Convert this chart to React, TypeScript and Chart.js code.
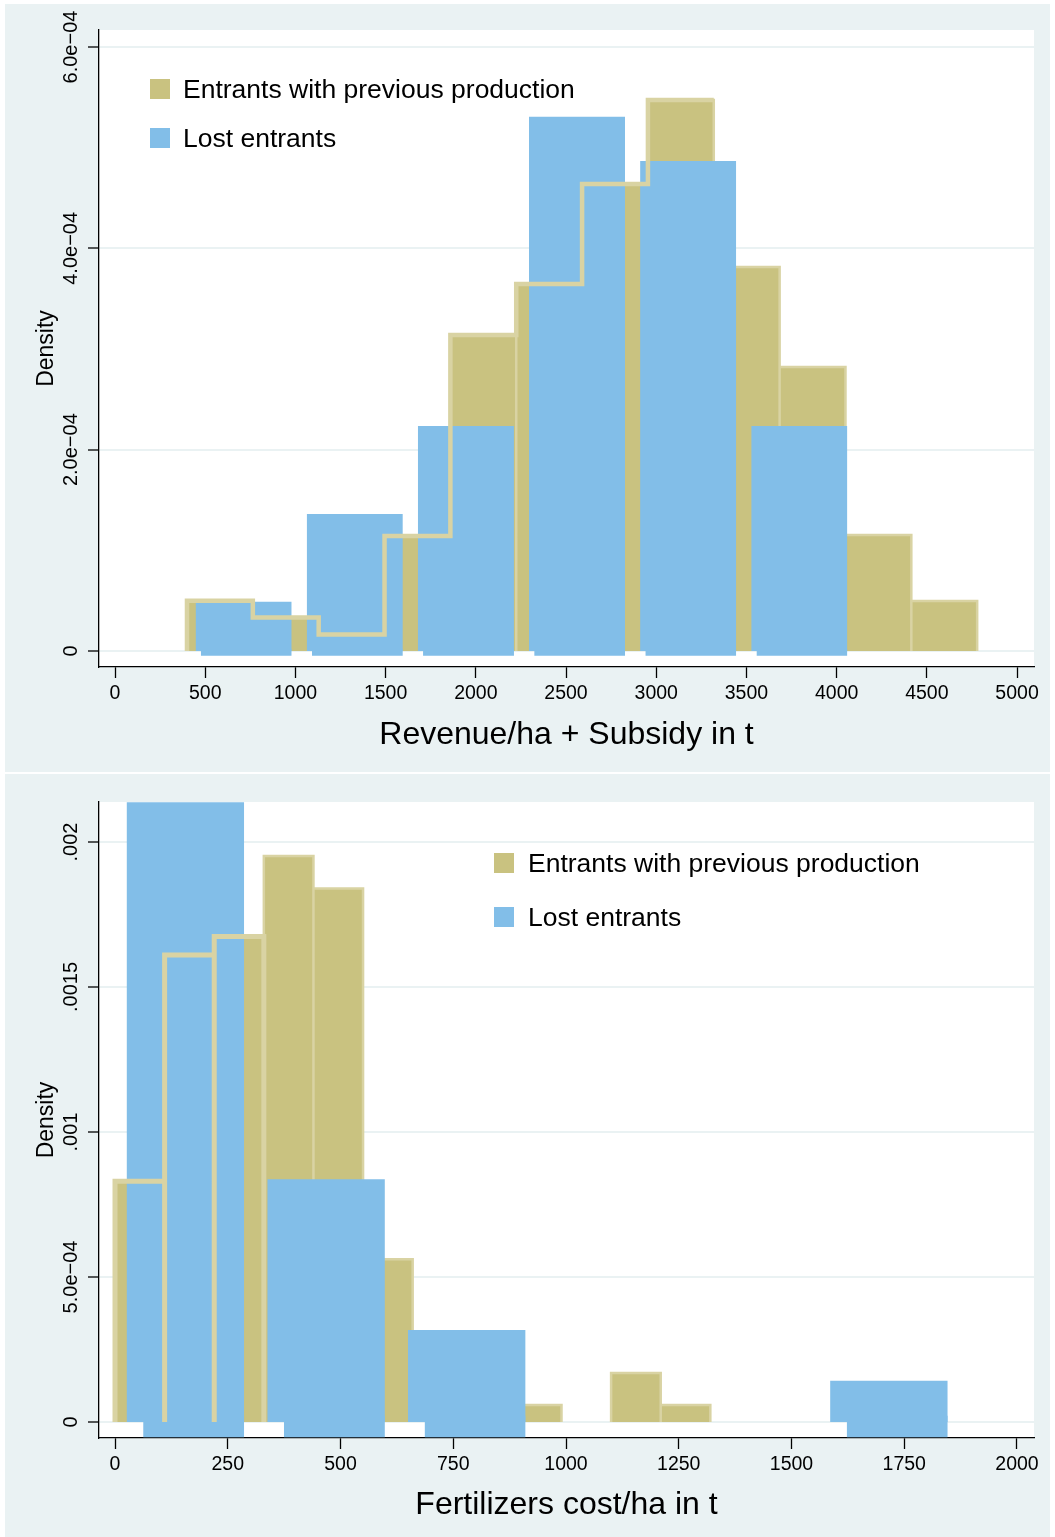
import React, { useEffect, useRef } from "react";
import { Chart, registerables } from "chart.js";

Chart.register(...registerables);

const FONT = "'Liberation Sans', Arial, Helvetica, sans-serif";
const KHAKI = "rgb(201,194,128)";
const KHAKI_EDGE = "rgb(217,211,163)";
const BLUE = "rgb(130,190,232)";
const PANEL_BG = "rgb(234,242,243)";

const legendLabels = ["Entrants with previous production", "Lost entrants"];
const yTitle = "Density";

// ---------- Panel 1: Revenue/ha + Subsidy ----------
const revTitle = "Revenue/ha + Subsidy in t";
const revPrevStart = 399;
const revPrevWidth = 365;
const revPrevDensity = [
  0.5e-4, 0.333e-4, 0.164e-4, 1.142e-4, 3.139e-4, 3.646e-4, 4.639e-4, 5.474e-4,
  3.815e-4, 2.821e-4, 1.152e-4, 0.497e-4,
];
const revLostStart = 405;
const revLostWidth = 616;
const revLostDensity = [0.49e-4, 1.361e-4, 2.235e-4, 5.308e-4, 4.868e-4, 2.235e-4];
const revXTicks = [0, 500, 1000, 1500, 2000, 2500, 3000, 3500, 4000, 4500, 5000];
const revXLabels = ["0", "500", "1000", "1500", "2000", "2500", "3000", "3500", "4000", "4500", "5000"];
const revYTicks = [0, 0.0002, 0.0004, 0.0006];
const revYLabels = ["0", "2.0e\u221204", "4.0e\u221204", "6.0e\u221204"];

// ---------- Panel 2: Fertilizers cost/ha ----------
const fertTitle = "Fertilizers cost/ha in t";
const fertPrevStart = 0;
const fertPrevWidth = 110;
const fertPrevDensity = [
  8.3e-4, 1.61e-3, 1.674e-3, 1.952e-3, 1.84e-3, 5.61e-4, 2.3e-4, 1.2e-4, 5.9e-5, 0,
  1.69e-4, 5.9e-5,
];
const fertLostStart = 0;
const fertLostWidth = 312;
const fertLostDensity = [2.137e-3, 8.37e-4, 3.17e-4, 0, 0, 1.42e-4];
const fertXTicks = [0, 250, 500, 750, 1000, 1250, 1500, 1750, 2000];
const fertXLabels = ["0", "250", "500", "750", "1000", "1250", "1500", "1750", "2000"];
const fertYTicks = [0, 0.0005, 0.001, 0.0015, 0.002];
const fertYLabels = ["0", "5.0e\u221204", ".001", ".0015", ".002"];

type P = { x: number; y: number | null };

function prevRects(start: number, width: number, vals: number[]): P[] {
  const pts: P[] = [];
  vals.forEach((v, i) => {
    if (!v) return;
    const l = start + i * width;
    const r = l + width;
    pts.push({ x: l, y: 0 }, { x: l, y: v }, { x: r, y: v }, { x: r, y: 0 }, { x: r, y: null });
  });
  return pts;
}

function lostTops(start: number, width: number, vals: number[], frac: number): P[] {
  const pts: P[] = [];
  vals.forEach((v, i) => {
    if (!v) return;
    const c = start + (i + 0.5) * width;
    const h = (width * frac) / 2;
    pts.push({ x: c - h, y: v }, { x: c + h, y: v }, { x: c + h, y: null });
  });
  return pts;
}

function lostFeet(start: number, width: number, vals: number[], frac: number, shift: number, base: number): P[] {
  const pts: P[] = [];
  vals.forEach((v, i) => {
    if (!v) return;
    const c = start + (i + 0.5) * width;
    const h = (width * frac) / 2;
    pts.push({ x: c - h + shift, y: base }, { x: c + h, y: base }, { x: c + h, y: null });
  });
  return pts;
}

function stepProfile(start: number, width: number, vals: number[], count: number): P[] {
  const pts: P[] = [{ x: start, y: 0 }];
  for (let i = 0; i < count; i++) {
    const l = start + i * width;
    pts.push({ x: l, y: vals[i] }, { x: l + width, y: vals[i] });
  }
  return pts;
}

function rectOutlines(start: number, width: number, vals: number[], count: number): P[] {
  const pts: P[] = [];
  for (let i = 0; i < count; i++) {
    const l = start + i * width;
    const r = l + width;
    pts.push({ x: l, y: 0 }, { x: l, y: vals[i] }, { x: r, y: vals[i] }, { x: r, y: 0 });
  }
  return pts;
}

const plotBgPlugin = {
  id: "plotBg",
  beforeDraw(chart: any) {
    const { ctx, chartArea } = chart;
    ctx.save();
    ctx.fillStyle = "#ffffff";
    ctx.fillRect(chartArea.left, chartArea.top, chartArea.right - chartArea.left, chartArea.bottom - chartArea.top);
    ctx.restore();
  },
};

const legendPlugin = {
  id: "histLegend",
  afterDraw(chart: any, _args: any, opts: any) {
    const { ctx, chartArea } = chart;
    ctx.save();
    ctx.font = `${opts.fontSize}px ${FONT}`;
    ctx.textBaseline = "alphabetic";
    ctx.textAlign = "left";
    opts.items.forEach((it: any, i: number) => {
      const bx = chartArea.left + opts.dx;
      const by = chartArea.top + opts.dy + i * opts.rowGap;
      ctx.fillStyle = it.color;
      ctx.fillRect(bx, by, opts.box, opts.box);
      ctx.fillStyle = "#000";
      ctx.fillText(it.label, bx + opts.textGap, by + opts.box / 2 + 0.358 * opts.fontSize);
    });
    ctx.restore();
  },
};

type PanelCfg = {
  title: string;
  prevStart: number;
  prevWidth: number;
  prevDensity: number[];
  lostStart: number;
  lostWidth: number;
  lostDensity: number[];
  lostFrac: number;
  footShift: number;
  footBase: number;
  outline: "step" | "rect";
  outlineCount: number;
  outlineWidth: number;
  xTicks: number[];
  xLabels: string[];
  yTicks: number[];
  yLabels: string[];
  xMin: number;
  xMax: number;
  yMin: number;
  yMax: number;
  padTop: number;
  xAxisHeight: number;
  titlePadBottom: number;
  legend: { dx: number; dy: number; rowGap: number; textGap: number };
};

function buildConfig(p: PanelCfg): any {
  const outlinePts =
    p.outline === "step"
      ? stepProfile(p.prevStart, p.prevWidth, p.prevDensity, p.outlineCount)
      : rectOutlines(p.prevStart, p.prevWidth, p.prevDensity, p.outlineCount);
  const common = { pointRadius: 0, pointHoverRadius: 0, tension: 0, spanGaps: false };
  return {
    type: "line",
    data: {
      datasets: [
        {
          ...common,
          label: legendLabels[0],
          data: prevRects(p.prevStart, p.prevWidth, p.prevDensity),
          borderColor: KHAKI_EDGE,
          borderWidth: 2.5,
          backgroundColor: KHAKI,
          fill: "origin",
          order: 4,
        },
        {
          ...common,
          label: legendLabels[1] + " base",
          data: lostFeet(p.lostStart, p.lostWidth, p.lostDensity, p.lostFrac, p.footShift, p.footBase),
          borderWidth: 0,
          borderColor: "rgba(0,0,0,0)",
          backgroundColor: BLUE,
          fill: { value: -p.footBase * 0.4 },
          order: 3,
        },
        {
          ...common,
          label: legendLabels[1],
          data: lostTops(p.lostStart, p.lostWidth, p.lostDensity, p.lostFrac),
          borderWidth: 0,
          borderColor: "rgba(0,0,0,0)",
          backgroundColor: BLUE,
          fill: "origin",
          order: 2,
        },
        {
          ...common,
          label: legendLabels[0] + " outline",
          data: outlinePts,
          borderColor: KHAKI_EDGE,
          borderWidth: p.outlineWidth,
          borderJoinStyle: "miter",
          fill: false,
          order: 1,
        },
      ],
    },
    options: {
      responsive: false,
      animation: false,
      maintainAspectRatio: false,
      events: [],
      layout: { padding: { left: 0, right: 16, top: p.padTop, bottom: 0 } },
      plugins: {
        legend: { display: false },
        tooltip: { enabled: false },
        histLegend: {
          items: [
            { label: legendLabels[0], color: KHAKI },
            { label: legendLabels[1], color: BLUE },
          ],
          dx: p.legend.dx,
          dy: p.legend.dy,
          rowGap: p.legend.rowGap,
          textGap: p.legend.textGap,
          box: 20,
          fontSize: 26.5,
        },
      },
      scales: {
        x: {
          type: "linear",
          min: p.xMin,
          max: p.xMax,
          afterBuildTicks: (s: any) => {
            s.ticks = p.xTicks.map((v) => ({ value: v }));
          },
          afterFit: (s: any) => {
            s.height = p.xAxisHeight;
          },
          ticks: {
            autoSkip: false,
            maxRotation: 0,
            minRotation: 0,
            padding: 4,
            color: "#000",
            font: { family: FONT, size: 19.5 },
            callback: (_v: any, i: number) => p.xLabels[i],
          },
          grid: {
            drawOnChartArea: false,
            drawTicks: true,
            tickLength: 11,
            tickColor: "#000",
            tickWidth: 1.3,
          },
          border: { display: true, color: "#000", width: 1.3 },
          title: {
            display: true,
            text: p.title,
            color: "#000",
            font: { family: FONT, size: 32 },
            padding: { top: 0, bottom: p.titlePadBottom },
          },
        },
        y: {
          type: "linear",
          min: p.yMin,
          max: p.yMax,
          afterBuildTicks: (s: any) => {
            s.ticks = p.yTicks.map((v) => ({ value: v }));
          },
          afterFit: (s: any) => {
            s.width = 94;
          },
          ticks: {
            autoSkip: false,
            minRotation: 90,
            maxRotation: 90,
            crossAlign: "center",
            padding: -20,
            color: "#000",
            font: { family: FONT, size: 20 },
            callback: (_v: any, i: number) => p.yLabels[i],
          },
          grid: {
            color: PANEL_BG,
            lineWidth: 2,
            drawTicks: true,
            tickLength: 11,
            tickColor: "#000",
            tickWidth: 1.3,
          },
          border: { display: true, color: "#000", width: 1.3 },
          title: {
            display: true,
            text: yTitle,
            color: "#000",
            font: { family: FONT, size: 23 },
            padding: { top: 28, bottom: 0 },
          },
        },
      },
    },
    plugins: [plotBgPlugin, legendPlugin],
  };
}

const revPanel: PanelCfg = {
  title: revTitle,
  prevStart: revPrevStart,
  prevWidth: revPrevWidth,
  prevDensity: revPrevDensity,
  lostStart: revLostStart,
  lostWidth: revLostWidth,
  lostDensity: revLostDensity,
  lostFrac: 0.865,
  footShift: 29,
  footBase: -4.7e-6,
  outline: "step",
  outlineCount: 8,
  outlineWidth: 4.5,
  xTicks: revXTicks,
  xLabels: revXLabels,
  yTicks: revYTicks,
  yLabels: revYLabels,
  xMin: -88.7,
  xMax: 5094,
  yMin: -1.59e-5,
  yMax: 6.169e-4,
  padTop: 26,
  xAxisHeight: 105,
  titlePadBottom: 18,
  legend: { dx: 51, dy: 49, rowGap: 49, textGap: 33 },
};

const fertPanel: PanelCfg = {
  title: fertTitle,
  prevStart: fertPrevStart,
  prevWidth: fertPrevWidth,
  prevDensity: fertPrevDensity,
  lostStart: fertLostStart,
  lostWidth: fertLostWidth,
  lostDensity: fertLostDensity,
  lostFrac: 0.836,
  footShift: 36.8,
  footBase: -5.28e-5,
  outline: "rect",
  outlineCount: 3,
  outlineWidth: 5,
  xTicks: fertXTicks,
  xLabels: fertXLabels,
  yTicks: fertYTicks,
  yLabels: fertYLabels,
  xMin: -35.5,
  xMax: 2037.7,
  yMin: -5.52e-5,
  yMax: 2.138e-3,
  padTop: 28,
  xAxisHeight: 99,
  titlePadBottom: 13,
  legend: { dx: 395, dy: 51, rowGap: 54, textGap: 34 },
};

function HistPanel({ cfg, width, height }: { cfg: PanelCfg; width: number; height: number }) {
  const ref = useRef<HTMLCanvasElement>(null);
  useEffect(() => {
    const chart = new Chart(ref.current as HTMLCanvasElement, buildConfig(cfg));
    return () => chart.destroy();
  }, [cfg]);
  return <canvas ref={ref} width={width} height={height} style={{ display: "block", width, height }} />;
}

export default function App() {
  return (
    <div
      style={{
        position: "absolute",
        left: 0,
        top: 0,
        width: 1055,
        height: 1537,
        background: "#ffffff",
        overflow: "hidden",
      }}
    >
      <div style={{ position: "absolute", left: 5, top: 4, width: 1045, height: 768, background: PANEL_BG }}>
        <HistPanel cfg={revPanel} width={1045} height={768} />
      </div>
      <div style={{ position: "absolute", left: 5, top: 774, width: 1045, height: 763, background: PANEL_BG }}>
        <HistPanel cfg={fertPanel} width={1045} height={763} />
      </div>
    </div>
  );
}
